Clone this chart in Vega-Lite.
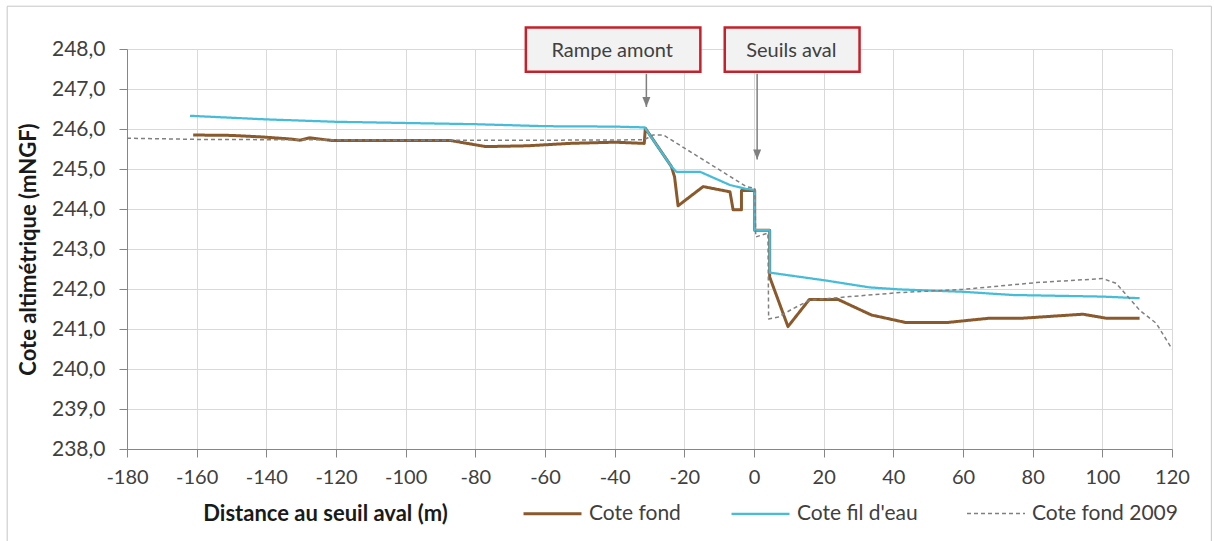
{
  "$schema": "https://vega.github.io/schema/vega-lite/v6.json",
  "width": 1045,
  "height": 400,
  "autosize": {"type": "none"},
  "padding": {"left": 127, "top": 49, "right": 42, "bottom": 92},
  "background": "white",
  "config": {
    "font": "Lato",
    "view": {"stroke": null},
    "axis": {
      "grid": true,
      "gridColor": "#d9d9d9",
      "gridWidth": 1,
      "domainColor": "#868686",
      "tickColor": "#868686",
      "tickSize": 8,
      "labelFont": "Lato",
      "labelFontSize": 20,
      "labelColor": "#404040",
      "labelOverlap": false,
      "labelFlush": false,
      "titleFont": "Lato",
      "titleFontSize": 22,
      "titleFontWeight": "bold",
      "titleColor": "#1a1a1a"
    },
    "legend": {
      "orient": "none",
      "direction": "horizontal",
      "legendX": 395,
      "legendY": 434,
      "symbolType": "stroke",
      "symbolSize": 3364,
      "labelFont": "Lato",
      "labelFontSize": 21,
      "labelColor": "#404040",
      "labelOffset": 6,
      "columnPadding": 46,
      "padding": 0,
      "title": null
    }
  },
  "datasets": {
    "profil": [
      {"serie": "Cote fond", "i": 1, "x": -161, "y": 245.85},
      {"serie": "Cote fond", "i": 2, "x": -150, "y": 245.84},
      {"serie": "Cote fond", "i": 3, "x": -141, "y": 245.8},
      {"serie": "Cote fond", "i": 4, "x": -133, "y": 245.75},
      {"serie": "Cote fond", "i": 5, "x": -130.4, "y": 245.72},
      {"serie": "Cote fond", "i": 6, "x": -127.5, "y": 245.78},
      {"serie": "Cote fond", "i": 7, "x": -121, "y": 245.71},
      {"serie": "Cote fond", "i": 8, "x": -100, "y": 245.71},
      {"serie": "Cote fond", "i": 9, "x": -87, "y": 245.71},
      {"serie": "Cote fond", "i": 10, "x": -77, "y": 245.56},
      {"serie": "Cote fond", "i": 11, "x": -65, "y": 245.58},
      {"serie": "Cote fond", "i": 12, "x": -53, "y": 245.64},
      {"serie": "Cote fond", "i": 13, "x": -40, "y": 245.67},
      {"serie": "Cote fond", "i": 14, "x": -31.5, "y": 245.64},
      {"serie": "Cote fond", "i": 15, "x": -31.2, "y": 246.02},
      {"serie": "Cote fond", "i": 16, "x": -23.7, "y": 245.06},
      {"serie": "Cote fond", "i": 17, "x": -22.8, "y": 244.8},
      {"serie": "Cote fond", "i": 18, "x": -21.8, "y": 244.08},
      {"serie": "Cote fond", "i": 19, "x": -14.6, "y": 244.56},
      {"serie": "Cote fond", "i": 20, "x": -6.9, "y": 244.43},
      {"serie": "Cote fond", "i": 21, "x": -6.0, "y": 243.98},
      {"serie": "Cote fond", "i": 22, "x": -3.6, "y": 243.98},
      {"serie": "Cote fond", "i": 23, "x": -3.6, "y": 244.46},
      {"serie": "Cote fond", "i": 24, "x": 0.2, "y": 244.46},
      {"serie": "Cote fond", "i": 25, "x": 0.2, "y": 243.47},
      {"serie": "Cote fond", "i": 26, "x": 4.5, "y": 243.47},
      {"serie": "Cote fond", "i": 27, "x": 4.5, "y": 242.3},
      {"serie": "Cote fond", "i": 28, "x": 9.75, "y": 241.06},
      {"serie": "Cote fond", "i": 29, "x": 15.9, "y": 241.74},
      {"serie": "Cote fond", "i": 30, "x": 24.1, "y": 241.74},
      {"serie": "Cote fond", "i": 31, "x": 33.7, "y": 241.35},
      {"serie": "Cote fond", "i": 32, "x": 43.7, "y": 241.16},
      {"serie": "Cote fond", "i": 33, "x": 55.2, "y": 241.16},
      {"serie": "Cote fond", "i": 34, "x": 67.6, "y": 241.27},
      {"serie": "Cote fond", "i": 35, "x": 77.2, "y": 241.27},
      {"serie": "Cote fond", "i": 36, "x": 94.4, "y": 241.37},
      {"serie": "Cote fond", "i": 37, "x": 101.1, "y": 241.27},
      {"serie": "Cote fond", "i": 38, "x": 110.7, "y": 241.27},

      {"serie": "Cote fil d'eau", "i": 1, "x": -161.9, "y": 246.33},
      {"serie": "Cote fil d'eau", "i": 2, "x": -140, "y": 246.24},
      {"serie": "Cote fil d'eau", "i": 3, "x": -120, "y": 246.18},
      {"serie": "Cote fil d'eau", "i": 4, "x": -100, "y": 246.15},
      {"serie": "Cote fil d'eau", "i": 5, "x": -80, "y": 246.12},
      {"serie": "Cote fil d'eau", "i": 6, "x": -60, "y": 246.07},
      {"serie": "Cote fil d'eau", "i": 7, "x": -40, "y": 246.06},
      {"serie": "Cote fil d'eau", "i": 8, "x": -31.4, "y": 246.04},
      {"serie": "Cote fil d'eau", "i": 9, "x": -23.7, "y": 245.06},
      {"serie": "Cote fil d'eau", "i": 10, "x": -22.3, "y": 244.93},
      {"serie": "Cote fil d'eau", "i": 11, "x": -15.5, "y": 244.93},
      {"serie": "Cote fil d'eau", "i": 12, "x": -6.9, "y": 244.6},
      {"serie": "Cote fil d'eau", "i": 13, "x": -2.2, "y": 244.5},
      {"serie": "Cote fil d'eau", "i": 14, "x": 0.2, "y": 244.48},
      {"serie": "Cote fil d'eau", "i": 15, "x": 0.2, "y": 243.47},
      {"serie": "Cote fil d'eau", "i": 16, "x": 4.5, "y": 243.47},
      {"serie": "Cote fil d'eau", "i": 17, "x": 4.5, "y": 242.41},
      {"serie": "Cote fil d'eau", "i": 18, "x": 20.8, "y": 242.21},
      {"serie": "Cote fil d'eau", "i": 19, "x": 33.2, "y": 242.04},
      {"serie": "Cote fil d'eau", "i": 20, "x": 41.8, "y": 241.99},
      {"serie": "Cote fil d'eau", "i": 21, "x": 60, "y": 241.93},
      {"serie": "Cote fil d'eau", "i": 22, "x": 74.3, "y": 241.85},
      {"serie": "Cote fil d'eau", "i": 23, "x": 100.1, "y": 241.81},
      {"serie": "Cote fil d'eau", "i": 24, "x": 110.7, "y": 241.77},

      {"serie": "Cote fond 2009", "i": 1, "x": -180, "y": 245.77},
      {"serie": "Cote fond 2009", "i": 2, "x": -160, "y": 245.74},
      {"serie": "Cote fond 2009", "i": 3, "x": -100, "y": 245.72},
      {"serie": "Cote fond 2009", "i": 4, "x": -60, "y": 245.72},
      {"serie": "Cote fond 2009", "i": 5, "x": -31.5, "y": 245.73},
      {"serie": "Cote fond 2009", "i": 6, "x": -29, "y": 245.85},
      {"serie": "Cote fond 2009", "i": 7, "x": -26, "y": 245.85},
      {"serie": "Cote fond 2009", "i": 8, "x": -2.2, "y": 244.56},
      {"serie": "Cote fond 2009", "i": 9, "x": 0.2, "y": 244.52},
      {"serie": "Cote fond 2009", "i": 10, "x": 0.5, "y": 243.3},
      {"serie": "Cote fond 2009", "i": 11, "x": 4.0, "y": 243.4},
      {"serie": "Cote fond 2009", "i": 12, "x": 4.2, "y": 241.25},
      {"serie": "Cote fond 2009", "i": 13, "x": 7, "y": 241.3},
      {"serie": "Cote fond 2009", "i": 14, "x": 11, "y": 241.5},
      {"serie": "Cote fond 2009", "i": 15, "x": 16, "y": 241.72},
      {"serie": "Cote fond 2009", "i": 16, "x": 27.5, "y": 241.81},
      {"serie": "Cote fond 2009", "i": 17, "x": 41.8, "y": 241.91},
      {"serie": "Cote fond 2009", "i": 18, "x": 60, "y": 241.99},
      {"serie": "Cote fond 2009", "i": 19, "x": 81, "y": 242.16},
      {"serie": "Cote fond 2009", "i": 20, "x": 100.1, "y": 242.26},
      {"serie": "Cote fond 2009", "i": 21, "x": 104, "y": 242.14},
      {"serie": "Cote fond 2009", "i": 22, "x": 110.7, "y": 241.47},
      {"serie": "Cote fond 2009", "i": 23, "x": 115.5, "y": 241.14},
      {"serie": "Cote fond 2009", "i": 24, "x": 120, "y": 240.5}
    ],
    "annotations": [
      {"label": "Rampe amont", "x1": -65.5, "x2": -15.4, "xc": -40.7, "ytop": 248.54, "ybot": 247.43, "yc": 247.95, "ax": -30.9, "ay1": 247.38, "ay2": 246.55},
      {"label": "Seuils aval", "x1": -8.4, "x2": 30.3, "xc": 10.7, "ytop": 248.54, "ybot": 247.43, "yc": 247.95, "ax": 0.9, "ay1": 247.38, "ay2": 245.24}
    ]
  },
  "layer": [
    {
      "data": {"name": "profil"},
      "mark": {"type": "line", "strokeJoin": "round"},
      "encoding": {
        "x": {
          "field": "x", "type": "quantitative",
          "scale": {"domain": [-180, 120], "nice": false, "zero": false},
          "axis": {
            "grid": true,
            "values": [-180, -160, -140, -120, -100, -80, -60, -40, -20, 0, 20, 40, 60, 80, 100, 120],
            "tickCount": 40,
            "labelExpr": "'' + datum.value",
            "labelPadding": 10,
            "labelFlush": false,
            "title": "Distance au seuil aval (m)",
            "titleX": 198,
            "titleY": 64,
            "titleBaseline": "middle",
            "titleAlign": "center"
          }
        },
        "y": {
          "field": "y", "type": "quantitative",
          "scale": {"domain": [238, 248], "nice": false, "zero": false},
          "axis": {
            "grid": true,
            "values": [238, 239, 240, 241, 242, 243, 244, 245, 246, 247, 248],
            "tickCount": 20,
            "labelExpr": "replace(format(datum.value, '.1f'), '.', ',')",
            "labelPadding": 14,
            "labelFontSize": 21,
            "title": "Cote altimétrique (mNGF)",
            "titleX": -99,
            "titleBaseline": "middle"
          }
        },
        "order": {"field": "i", "type": "quantitative"},
        "color": {
          "field": "serie", "type": "nominal",
          "scale": {"domain": ["Cote fond", "Cote fil d'eau", "Cote fond 2009"], "range": ["#8a5a2c", "#45bcd8", "#808080"]}
        },
        "strokeDash": {
          "field": "serie", "type": "nominal",
          "scale": {"domain": ["Cote fond", "Cote fil d'eau", "Cote fond 2009"], "range": [[1, 0], [1, 0], [4, 3]]}
        },
        "strokeWidth": {
          "field": "serie", "type": "nominal",
          "scale": {"domain": ["Cote fond", "Cote fil d'eau", "Cote fond 2009"], "range": [3, 1.5, 1.5]}
        }
      }
    },
    {
      "data": {"values": [{}]},
      "mark": {"type": "rect", "fillOpacity": 0, "stroke": "#c6c6c6", "strokeWidth": 1},
      "encoding": {
        "x": {"datum": -214.4, "type": "quantitative"},
        "x2": {"datum": 131.3},
        "y": {"datum": 249.07, "type": "quantitative"},
        "y2": {"datum": 235.6}
      }
    },
    {
      "data": {"name": "annotations"},
      "mark": {"type": "rect", "fill": "#f2f2f2", "stroke": "#c8202a", "strokeWidth": 2.5},
      "encoding": {
        "x": {"field": "x1", "type": "quantitative"},
        "x2": {"field": "x2"},
        "y": {"field": "ytop", "type": "quantitative"},
        "y2": {"field": "ybot"}
      }
    },
    {
      "data": {"name": "annotations"},
      "mark": {"type": "text", "font": "Lato", "fontSize": 20, "color": "#404040", "align": "center", "baseline": "middle"},
      "encoding": {
        "x": {"field": "xc", "type": "quantitative"},
        "y": {"field": "yc", "type": "quantitative"},
        "text": {"field": "label"}
      }
    },
    {
      "data": {"name": "annotations"},
      "mark": {"type": "rule", "color": "#7f7f7f", "strokeWidth": 1.5},
      "encoding": {
        "x": {"field": "ax", "type": "quantitative"},
        "y": {"field": "ay1", "type": "quantitative"},
        "y2": {"field": "ay2"}
      }
    },
    {
      "data": {"name": "annotations"},
      "mark": {"type": "point", "shape": "M0,0L-0.8,-2L0.8,-2Z", "size": 100, "filled": true, "color": "#7f7f7f", "opacity": 1},
      "encoding": {
        "x": {"field": "ax", "type": "quantitative"},
        "y": {"field": "ay2", "type": "quantitative"}
      }
    }
  ]
}
